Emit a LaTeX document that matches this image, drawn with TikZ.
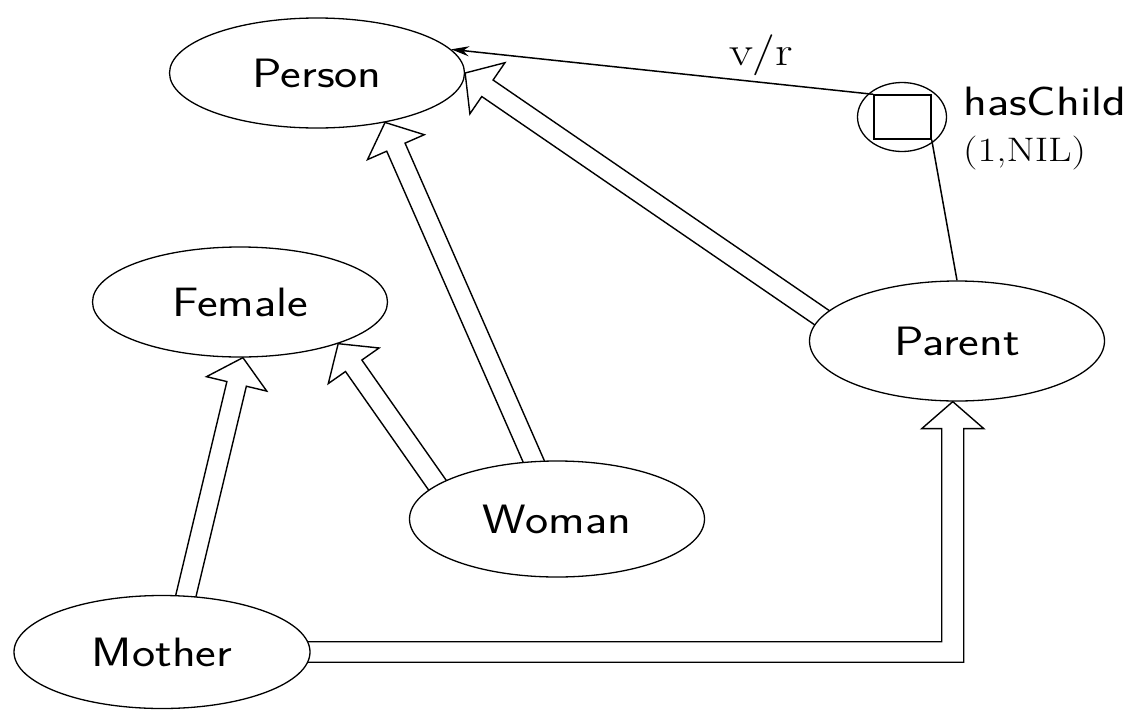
\documentclass[tikz,border=0pt]{standalone}
\usepackage{fontspec}
\usepackage{graphicx}
\usetikzlibrary{shapes.geometric,calc,arrows.meta}
\pgfdeclarelayer{background}
\pgfsetlayers{background,main}
\newcommand\stx[1]{\scalebox{1.2}[1]{#1}}
% generalisation arrow: block-arrow outline from #1 (source border) to #2 (target border)
\newcommand\genarrow[2]{%
  \coordinate (gA) at (#1);
  \coordinate (gB) at (#2);
  \coordinate (gS) at ($(gA)!-20pt!(gB)$);
  \coordinate (gP) at ($(gB)!27pt!(gA)$);
  \begin{pgfonlayer}{background}
  \draw[genline] ($(gS)!10pt!90:(gB)$) -- ($(gP)!10pt!90:(gB)$) -- ($(gP)!31pt!90:(gB)$) -- (gB)
     -- ($(gP)!31pt!-90:(gB)$) -- ($(gP)!10pt!-90:(gB)$) -- ($(gS)!10pt!-90:(gB)$);
  \end{pgfonlayer}}
\begin{document}
\begin{tikzpicture}[x=1pt,y=-1pt,
  concept/.style={draw, ellipse, fill=white, line width=1.3pt, inner sep=0pt,
    minimum width=295pt, minimum height=110pt, font=\sffamily\fontsize{41}{44}\selectfont},
  genline/.style={line width=1.4pt, line join=miter},
  roleline/.style={line width=1.5pt}]
\useasboundingbox (0,0) rectangle (1136,710);
\node[concept] (person) at (317,73) {\stx{Person}};
\node[concept] (female) at (240,302) {\stx{Female}};
\node[concept, minimum height=116pt] (woman) at (557,519) {\stx{Woman}};
\node[concept, minimum width=296pt, minimum height=113pt] (mother) at (162,652) {\stx{Mother}};
\node[concept, minimum height=120pt] (parent) at (957,341) {\stx{Parent}};
\node[draw, ellipse, line width=1.3pt, minimum width=89pt, minimum height=69pt, inner sep=0pt] (hc) at (902,117) {};
\node[draw, rectangle, line width=1.4pt, minimum width=57pt, minimum height=44pt, inner sep=0pt] (hcbox) at (902.5,117) {};
\node[anchor=base west, font=\sffamily\fontsize{41}{44}\selectfont, inner sep=0pt] (hcname) at (963,115) {\stx{hasChild}};
\node[anchor=base west, font=\fontsize{34}{38}\selectfont, inner sep=0pt] (hcnum) at (963,161) {\stx{(1,NIL)}};
\node[anchor=base, font=\fontsize{41}{44}\selectfont, inner sep=0pt] (vr) at (761,65) {\stx{v/r}};
% role connectors
\draw[roleline, -{Stealth[length=18pt,width=10pt]}] (hcbox.north west) -- (person.10);
\draw[roleline] (hcbox.south east) -- (parent.north);
% generalisations
\genarrow{woman.112}{person.-36}
\genarrow{woman.164}{female.-23}
\genarrow{mother.67}{female.-87}
\genarrow{parent.170}{person.0}
\coordinate (mt) at (parent.-94);
\begin{pgfonlayer}{background}
\draw[genline] ($(mother.4)+(-20,0)$) -| ($(mt)+(-11,27)$) -- ++(-20,0) -- (mt)
   -- ($(mt)+(31,27)$) -- ++(-20,0) |- ($(mother.-4)+(-20,0)$);
\end{pgfonlayer}
\end{tikzpicture}
\end{document}
